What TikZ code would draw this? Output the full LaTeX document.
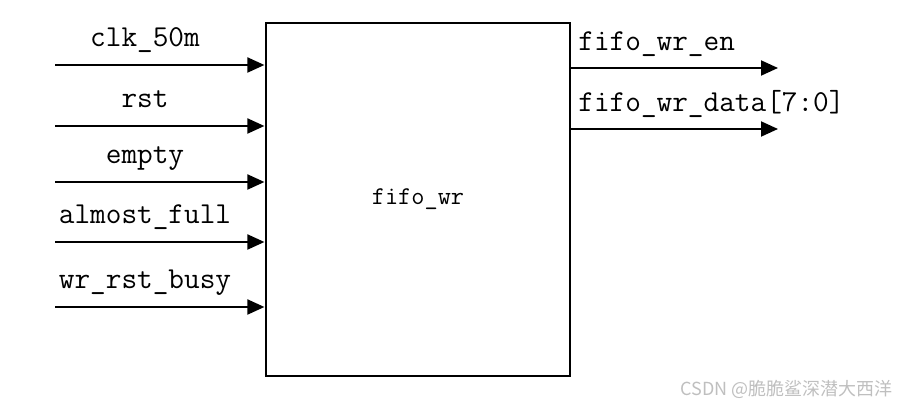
\documentclass[tikz,border=0pt]{standalone}
\usepackage{fontspec}
\newfontfamily\cjkfont{Noto Sans CJK SC}
\usetikzlibrary{arrows.meta,positioning}
\tikzset{
  modblk/.style={draw,line width=0.6pt,rectangle,minimum width=152pt,minimum height=176.5pt,
    font=\ttfamily\fontsize{12.8}{15}\selectfont},
  arr/.style={-{Triangle[length=8.5pt,width=7.5pt]},line width=1pt,shorten >=0.5pt},
  sig/.style={font=\ttfamily\fontsize{15.2}{18}\selectfont,inner sep=0pt},
  wmark/.style={font=\cjkfont\fontsize{9}{11}\selectfont,text=black!25,inner sep=0pt}
}
\begin{document}
\begin{tikzpicture}[x=0.5pt,y=-0.5pt]
  \useasboundingbox (0,0) rectangle (900,405);
  % write module
  \node[modblk] (fw) at (418,199.5) {fifo\_wr};

  % inputs
  \foreach \nm/\yy/\txt in {clk/65/clk\_50m, rst/126/rst, empty/182/empty,
      afull/242/almost\_full, busy/307/wr\_rst\_busy} {
    \coordinate (in-\nm) at (55,\yy);
    \draw[arr] (in-\nm) -- (in-\nm -| fw.west);
    \node[sig,anchor=base] (lbl-\nm) at (145,\yy-18) {\txt};
  }

  % outputs
  \foreach \nm/\yy/\txt in {en/68/fifo\_wr\_en, data/129/fifo\_wr\_data[7:0]} {
    \coordinate (out-\nm) at (779,\yy);
    \draw[arr] (fw.east |- out-\nm) -- (out-\nm);
    \node[sig,anchor=base west] (lbl-\nm) at (578,\yy-17) {\txt};
  }

  \node[wmark,anchor=base east] (wm) at (893,396) {CSDN @脆脆鲨深潜大西洋};
\end{tikzpicture}
\end{document}
